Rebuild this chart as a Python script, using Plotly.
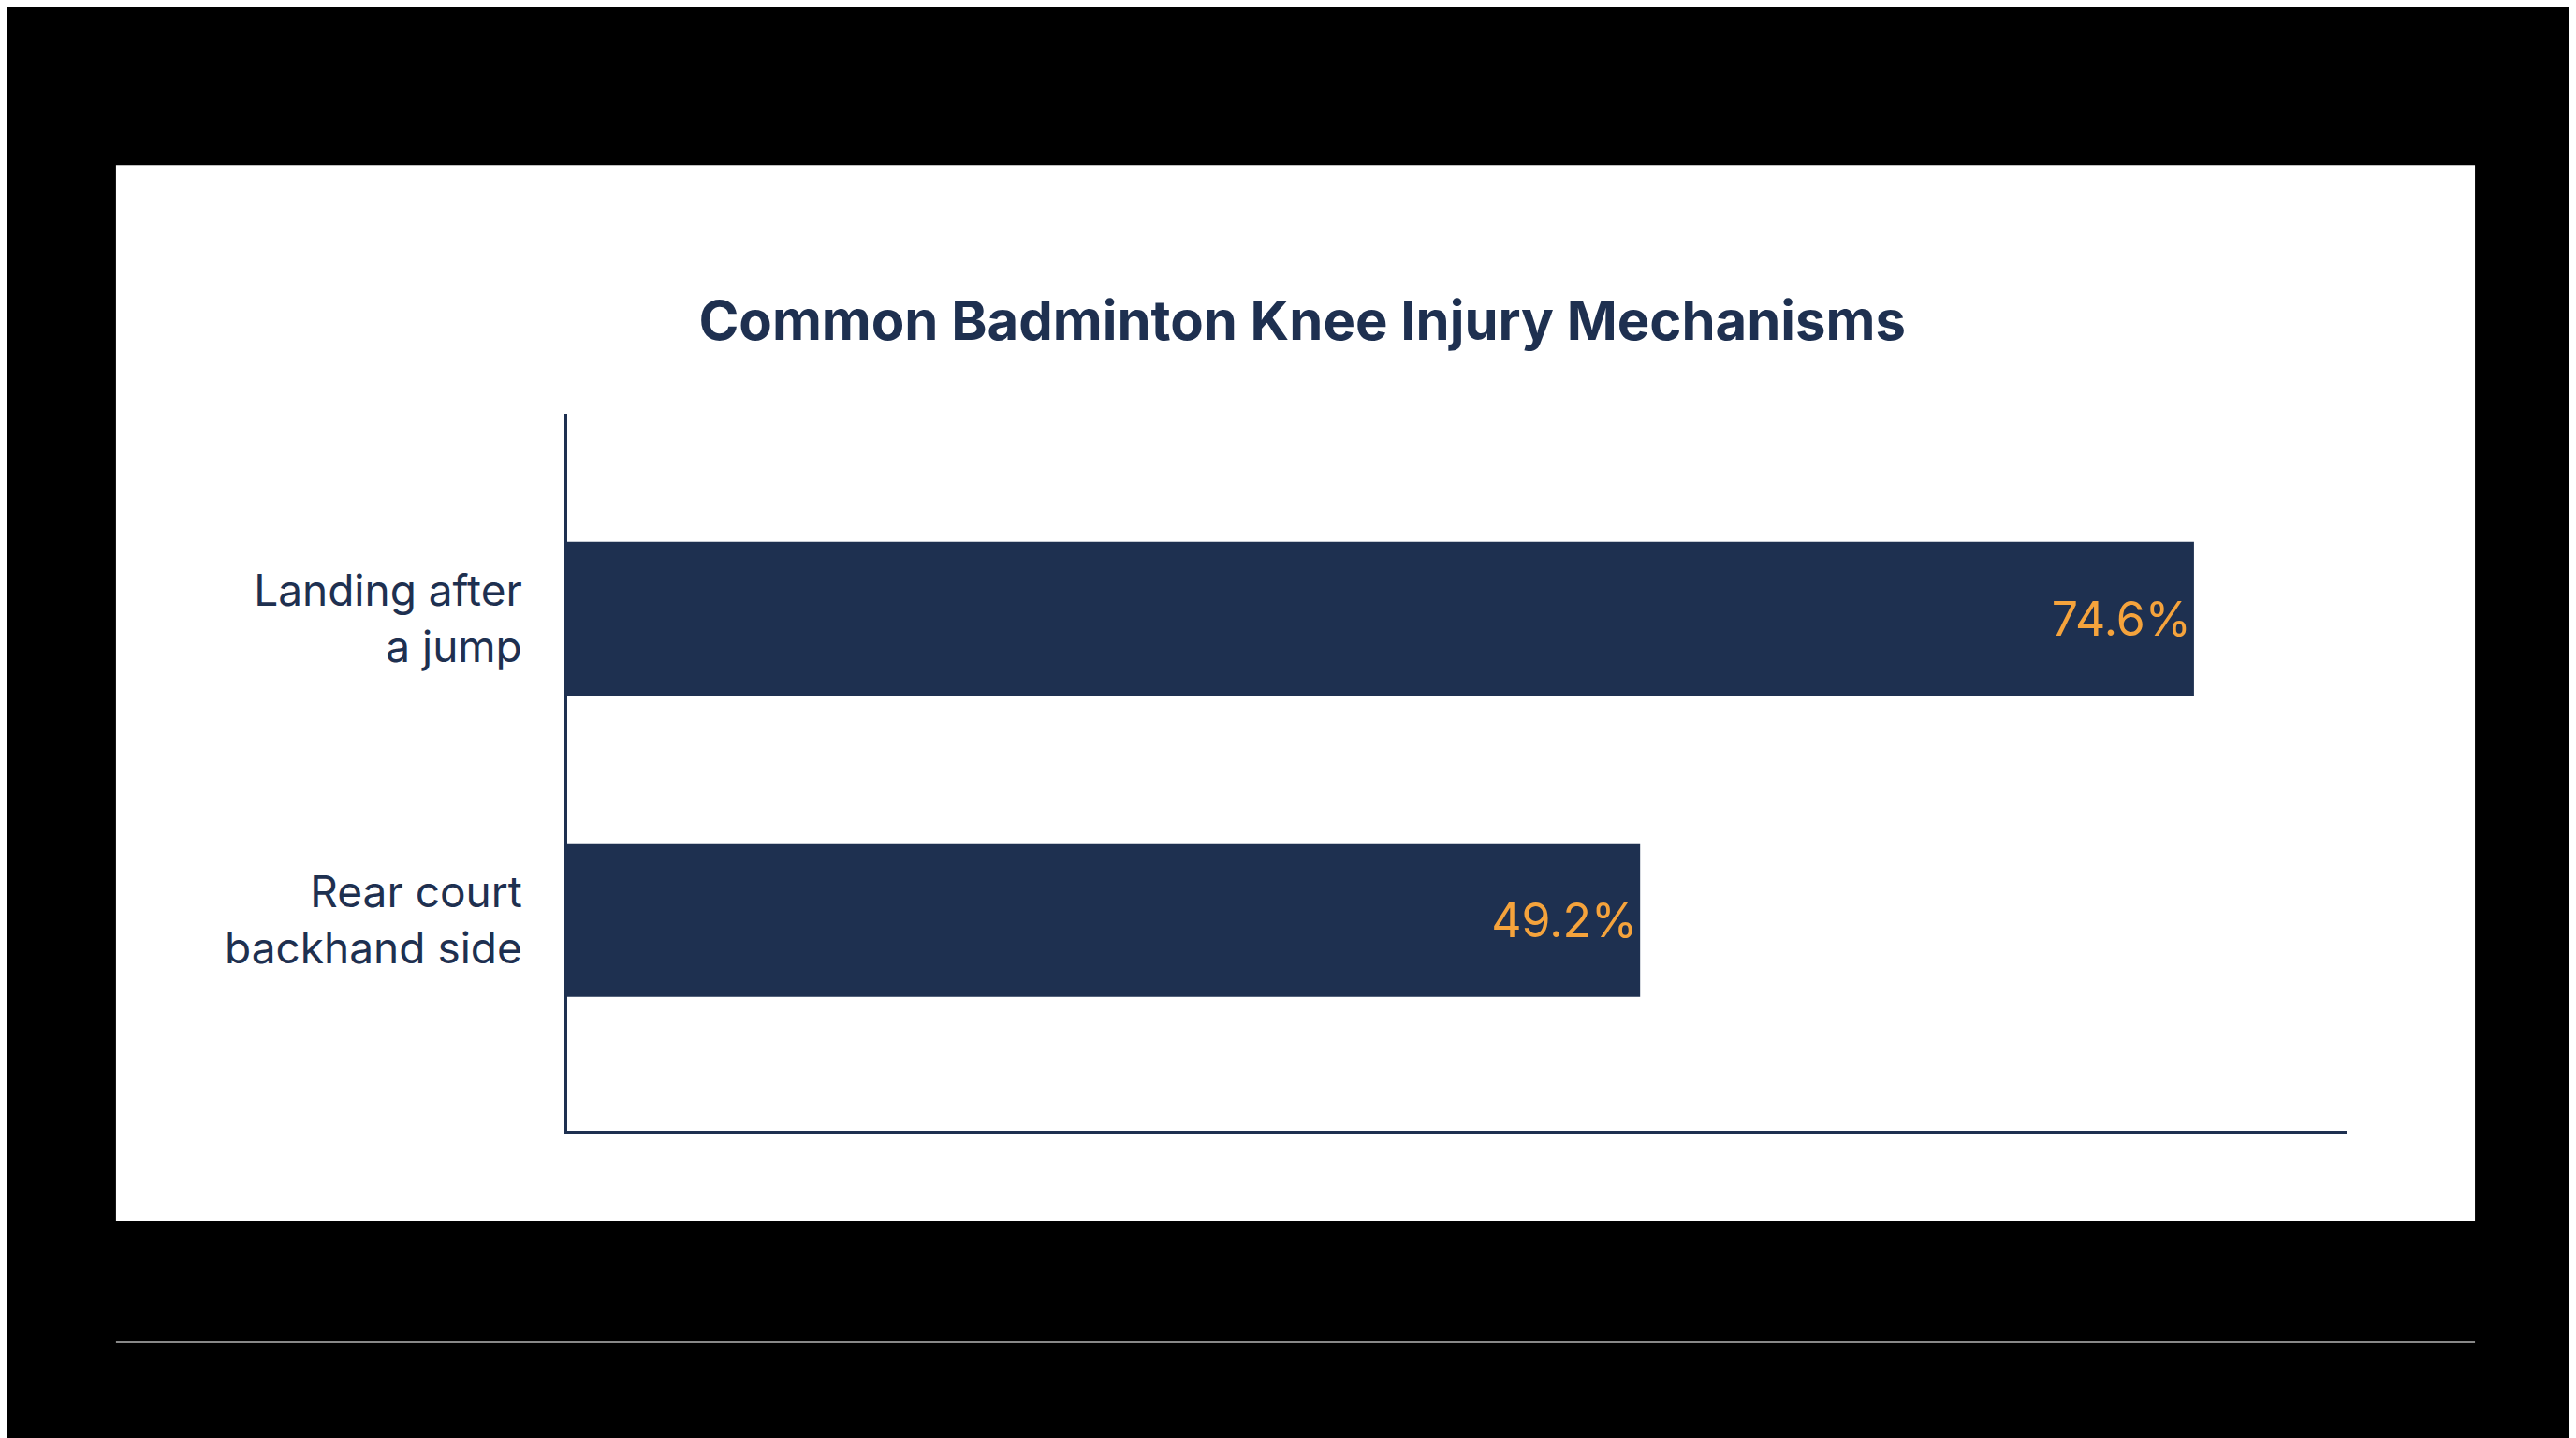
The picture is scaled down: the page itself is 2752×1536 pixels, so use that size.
import plotly.graph_objects as go

categories = ["Landing after<br>a jump", "Rear court<br>backhand side"]
values = [74.6, 49.2]
labels = ["74.6%", "49.2%"]

navy = "#1E3050"
orange = "#F5A33C"

fig = go.Figure(go.Bar(
    x=values, y=categories, orientation="h",
    marker=dict(color=navy, line=dict(width=0)),
    width=0.51,
    text=labels, textposition="inside", insidetextanchor="end",
    textfont=dict(color=orange, size=50, family="Inter"),
))

# white card and the thin rule below it (paper coords relative to plot area)
fig.add_shape(type="rect", xref="paper", yref="paper",
              x0=-0.2536, x1=1.0721, y0=-0.1253, y1=1.347,
              fillcolor="white", line=dict(width=0), layer="below")
fig.add_shape(type="line", xref="paper", yref="paper",
              x0=-0.2536, x1=1.0721, y0=-0.2937, y1=-0.2937,
              line=dict(color="#888888", width=2), layer="below")

fig.update_layout(
    width=2752, height=1536,
    margin=dict(l=598, r=253, t=434, b=336),
    paper_bgcolor="black", plot_bgcolor="white",
    title=dict(text="<b>Common Badminton Knee Injury Mechanisms</b>",
               x=0.5026, xanchor="center", y=0.782, yanchor="middle",
               font=dict(family="Inter", size=58, color=navy)),
    showlegend=False,
    font=dict(family="Inter", color=navy),
)
fig.update_xaxes(range=[0, 81.6], showgrid=False, showticklabels=False,
                 zeroline=False, showline=True, linecolor=navy, linewidth=3,
                 ticks="")
fig.update_yaxes(range=[1.7, -0.68], showgrid=False, zeroline=False,
                 showline=True, linecolor=navy, linewidth=3, ticks="",
                 tickfont=dict(size=46, color=navy, family="Inter"),
                 ticklabelstandoff=36)

fig.write_html("out.html")
